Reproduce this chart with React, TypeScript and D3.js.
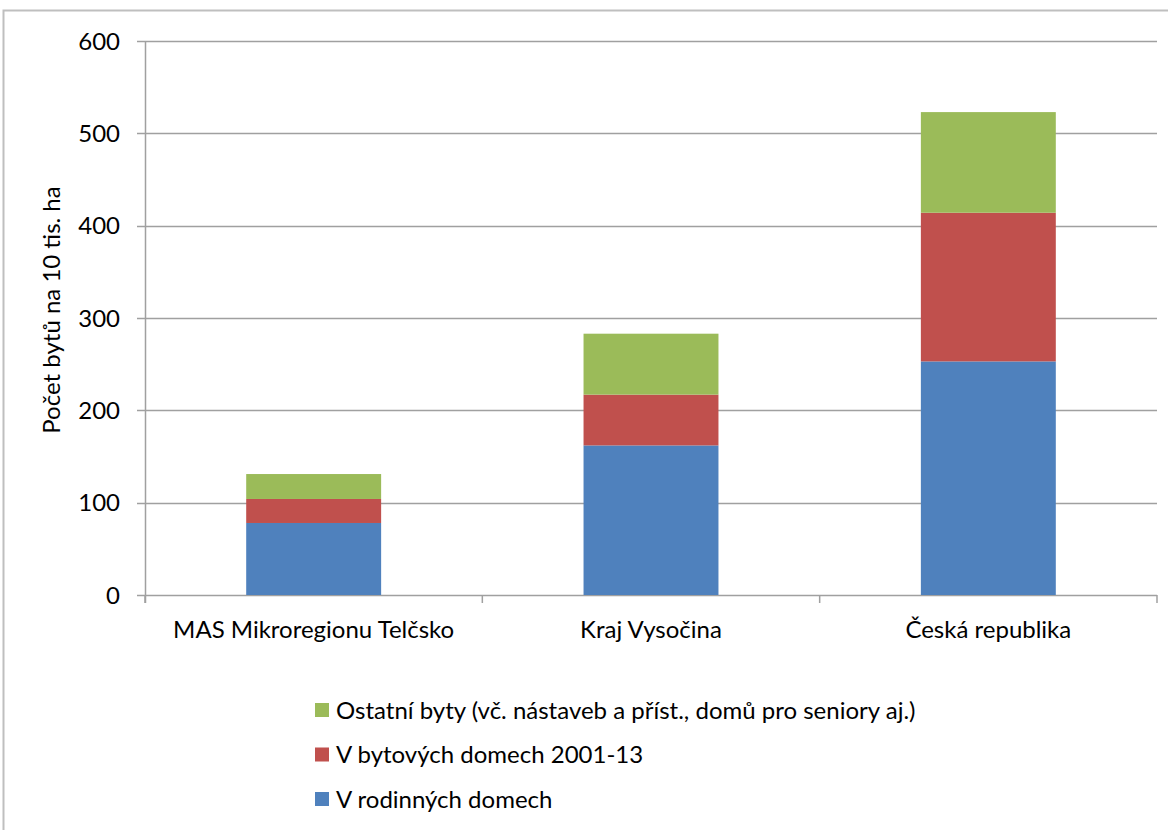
import React, { useRef, useEffect } from "react";
import * as d3 from "d3";

const categories = ["MAS Mikroregionu Telčsko", "Kraj Vysočina", "Česká republika"];
const rodinne = [78, 162, 253];
const bytove = [26, 55, 161];
const ostatni = [27, 66, 109];
const seriesNames = [
  "V rodinných domech",
  "V bytových domech 2001-13",
  "Ostatní byty (vč. nástaveb a příst., domů pro seniory aj.)",
];
const colors = ["#4F81BD", "#C0504D", "#9BBB59"];
const yTicks = [0, 100, 200, 300, 400, 500, 600];

const W = 1168;
const H = 830;
const FONT = "Lato, 'Open Sans', sans-serif";
const FS = 24;

const App = () => {
  const svgRef = useRef<SVGSVGElement>(null);

  useEffect(() => {
    const svg = d3.select(svgRef.current);
    svg.selectAll("*").remove();

    const margin = { top: 41, right: 11, bottom: 235, left: 145 };
    const plotW = W - margin.left - margin.right;
    const plotH = H - margin.top - margin.bottom;

    // outer chart border
    svg
      .append("rect")
      .attr("x", 3.5)
      .attr("y", 10.5)
      .attr("width", W + 10)
      .attr("height", H + 10)
      .attr("fill", "none")
      .attr("stroke", "#bfbfbf")
      .attr("stroke-width", 2);

    const g = svg
      .append("g")
      .attr("transform", "translate(" + margin.left + "," + margin.top + ")");

    const x = d3.scaleBand().domain(categories).range([0, plotW]).paddingInner(0.6).paddingOuter(0.3);
    const y = d3.scaleLinear().domain([0, 600]).range([plotH, 0]);

    // gridlines + y ticks
    g.selectAll(".grid")
      .data(yTicks)
      .join("line")
      .attr("class", "grid")
      .attr("x1", -8)
      .attr("x2", plotW)
      .attr("y1", (d) => Math.round(y(d)) + 0.5)
      .attr("y2", (d) => Math.round(y(d)) + 0.5)
      .attr("stroke", "#a0a0a0")
      .attr("stroke-width", 1.5);

    g.selectAll(".ylab")
      .data(yTicks)
      .join("text")
      .attr("class", "ylab")
      .attr("x", -25)
      .attr("y", (d) => y(d))
      .attr("dy", "0.36em")
      .attr("text-anchor", "end")
      .attr("font-family", FONT)
      .attr("font-size", FS)
      .attr("fill", "#000")
      .text((d) => d);

    const stackData = categories.map((c, i) => ({
      cat: c,
      s0: rodinne[i],
      s1: bytove[i],
      s2: ostatni[i],
    }));
    const stack = d3.stack<any>().keys(["s0", "s1", "s2"])(stackData);

    g.selectAll(".layer")
      .data(stack)
      .join("g")
      .attr("class", "layer")
      .attr("fill", (d, i) => colors[i])
      .selectAll("rect")
      .data((d) => d)
      .join("rect")
      .attr("x", (d: any) => x(d.data.cat)!)
      .attr("width", x.bandwidth())
      .attr("y", (d) => y(d[1]))
      .attr("height", (d) => y(d[0]) - y(d[1]));

    // axes
    g.append("line")
      .attr("x1", 0.5)
      .attr("x2", 0.5)
      .attr("y1", 0)
      .attr("y2", plotH + 8)
      .attr("stroke", "#a0a0a0")
      .attr("stroke-width", 1.5);

    const step = plotW / categories.length;
    g.selectAll(".xtick")
      .data(d3.range(categories.length + 1))
      .join("line")
      .attr("class", "xtick")
      .attr("x1", (d) => d * step)
      .attr("x2", (d) => d * step)
      .attr("y1", plotH)
      .attr("y2", plotH + 8)
      .attr("stroke", "#a0a0a0")
      .attr("stroke-width", 1.5);

    g.selectAll(".xlab")
      .data(categories)
      .join("text")
      .attr("class", "xlab")
      .attr("x", (d) => x(d)! + x.bandwidth() / 2)
      .attr("y", plotH + 43)
      .attr("text-anchor", "middle")
      .attr("font-family", FONT)
      .attr("font-size", FS)
      .attr("fill", "#000")
      .text((d) => d);

    svg
      .append("text")
      .attr("transform", "translate(60," + (margin.top + plotH / 2 - 8) + ") rotate(-90)")
      .attr("text-anchor", "middle")
      .attr("font-family", FONT)
      .attr("font-size", FS)
      .attr("fill", "#000")
      .text("Počet bytů na 10 tis. ha");

    // legend (reverse order, top = last series)
    const legendOrder = [2, 1, 0];
    const lg = svg.append("g").attr("transform", "translate(315,703)");
    legendOrder.forEach((si, k) => {
      const row = lg.append("g").attr("transform", "translate(0," + k * 44.5 + ")");
      row.append("rect").attr("width", 14).attr("height", 14).attr("fill", colors[si]);
      row
        .append("text")
        .attr("x", 21)
        .attr("y", 7)
        .attr("dy", "0.36em")
        .attr("font-family", FONT)
        .attr("font-size", FS)
        .attr("fill", "#000")
        .text(seriesNames[si]);
    });
  }, []);

  return (
    <svg
      ref={svgRef}
      width={W}
      height={H}
      style={{ position: "absolute", left: 0, top: 0, background: "#fff" }}
    ></svg>
  );
};

export default App;
